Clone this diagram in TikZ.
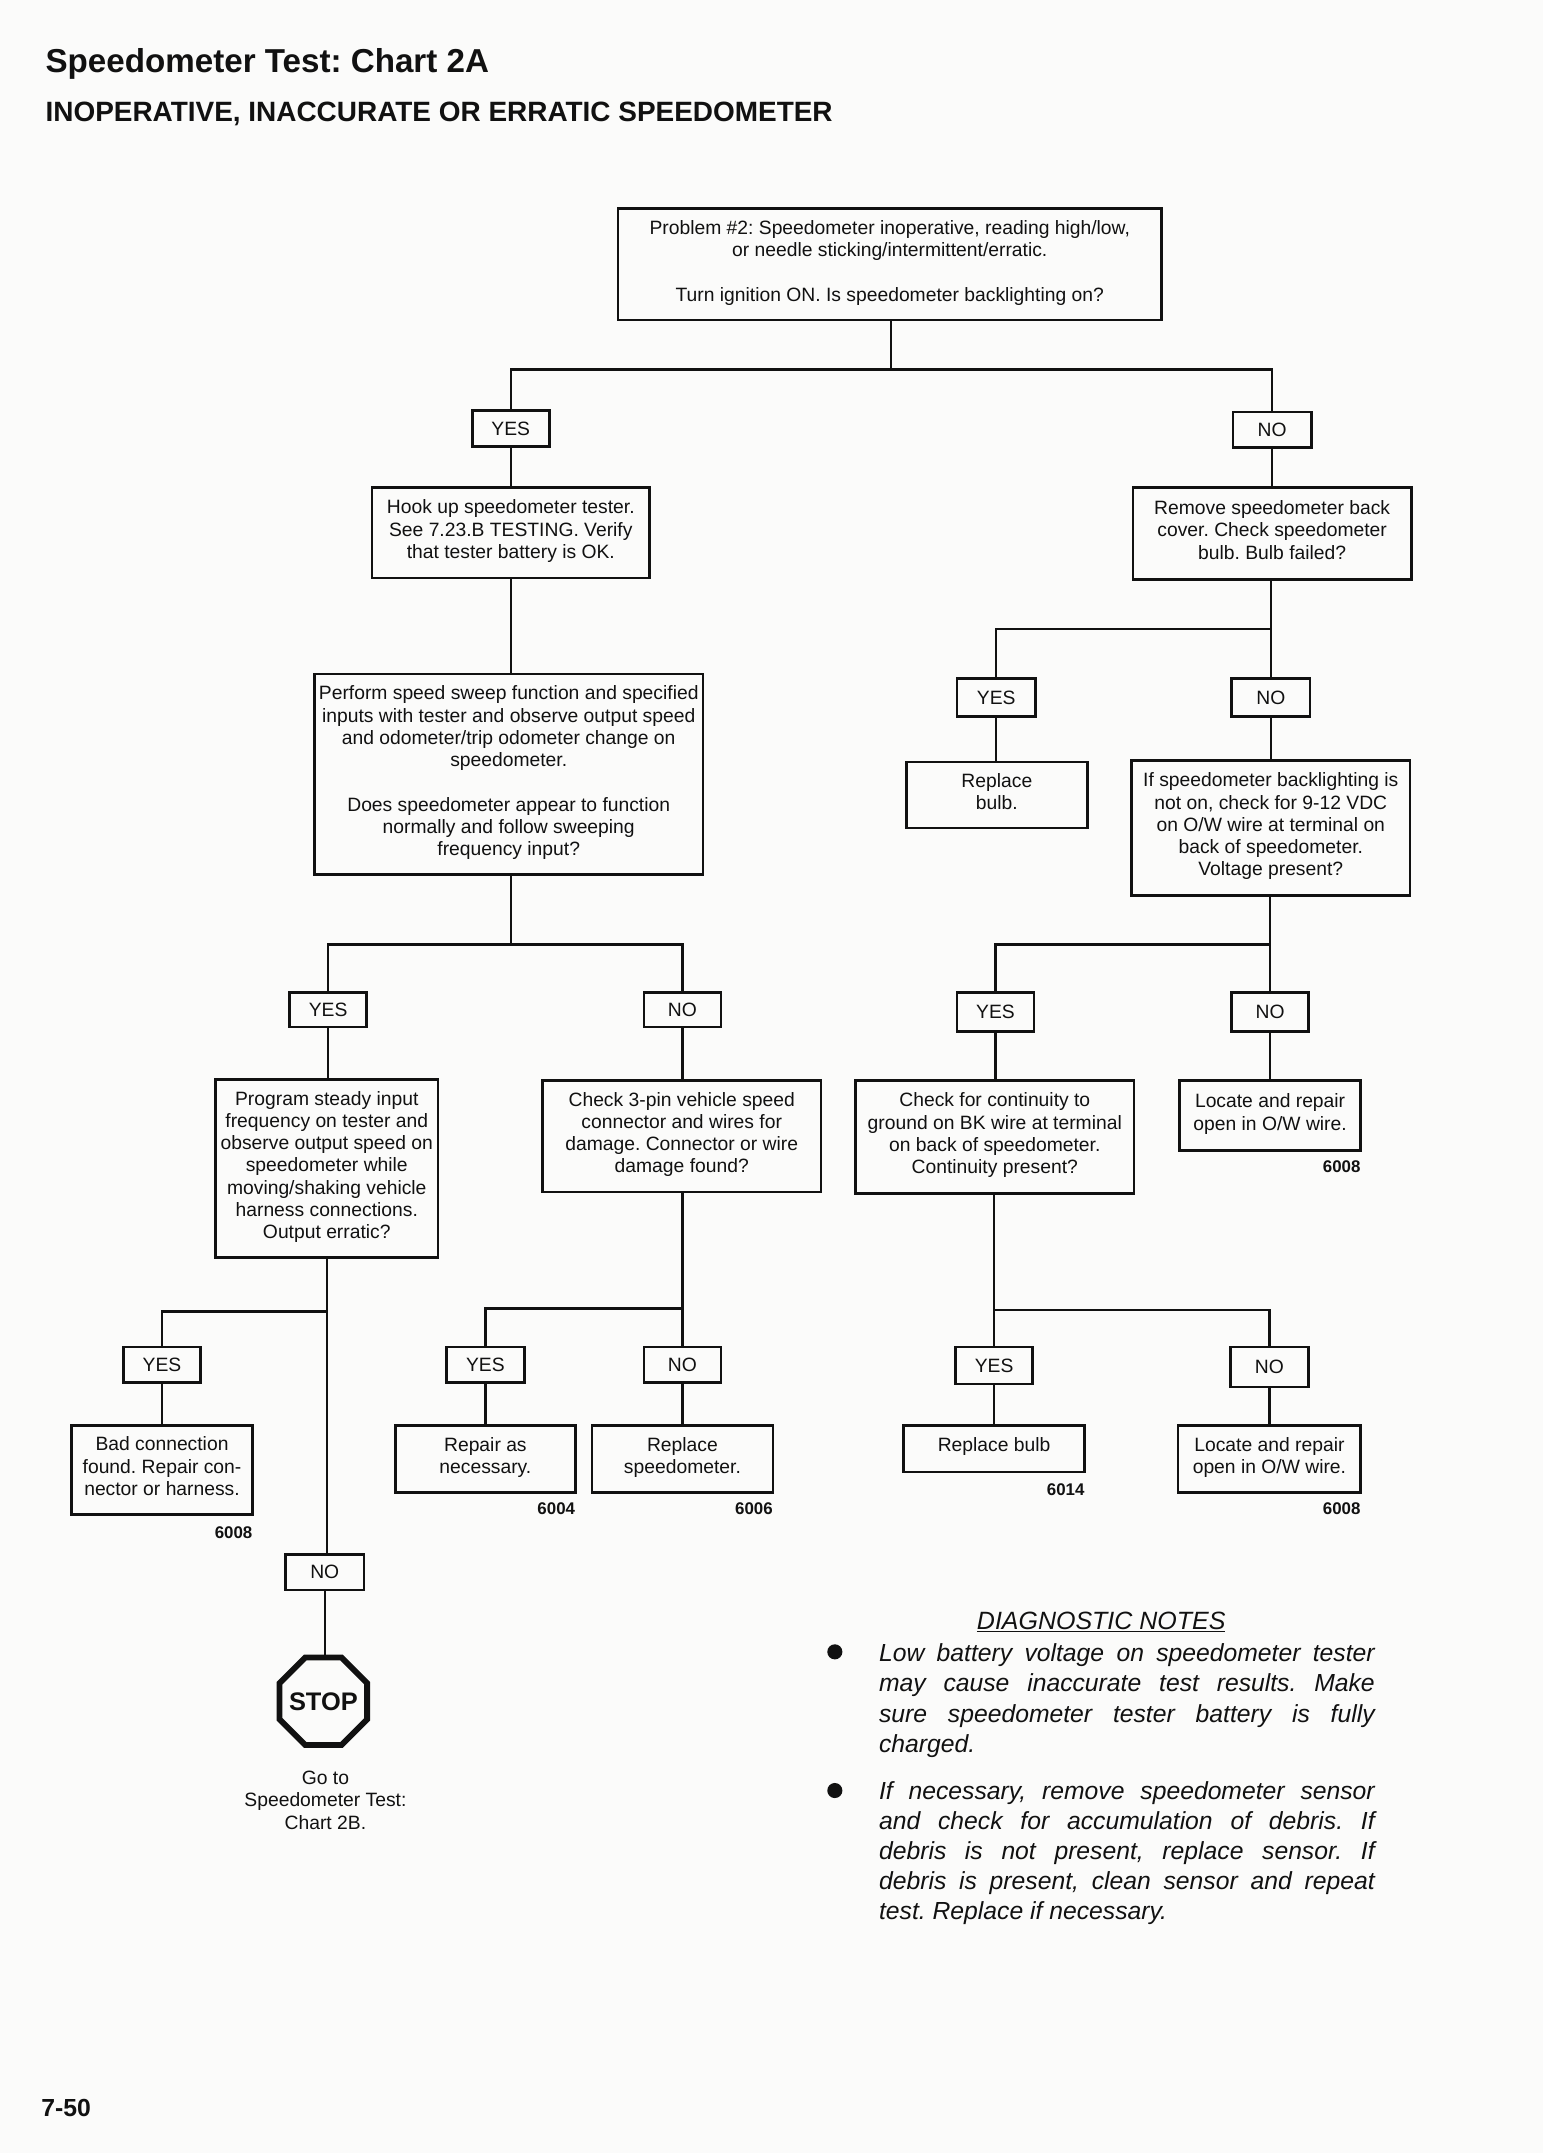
\documentclass[tikz,border=0pt]{standalone}
\usepackage{fontspec}
\setmainfont{Liberation Sans}
\usetikzlibrary{shapes.geometric}
\definecolor{paper}{HTML}{FBFBFA}
\definecolor{ink}{HTML}{111111}
\tikzset{
  flowbox/.style={draw=ink,line width=1.9pt,rectangle,inner sep=0pt,align=center,text=ink,font=\frenchspacing\fontsize{14.05}{16.2}\selectfont},
  link/.style={draw=ink,line width=1.8pt},
  code/.style={anchor=east,inner sep=0pt,text=ink,font=\bfseries\fontsize{12.3}{14}\selectfont},
  plain/.style={inner sep=0pt,align=center,text=ink,font=\frenchspacing\fontsize{14.05}{16.2}\selectfont},
  note/.style={anchor=north west,inner sep=0pt,text width=361pt,align=justify,text=ink,font=\frenchspacing\itshape\fontsize{18}{22}\selectfont},
  dotmark/.style={circle,fill=ink,inner sep=0pt,minimum size=11pt},
  heading/.style={anchor=west,inner sep=0pt,text=ink,font=\bfseries}
}
\newcommand{\bx}[6]{\node[flowbox,minimum width={(#4-#2)*1pt},minimum height={(#5-#3)*1pt}] (#1) at ({(#2+#4)/2},{(#3+#5)/2}) {\strut #6\rule[-6.5pt]{0pt}{6.5pt}};}
\newcommand{\ans}[6]{\node[flowbox,minimum width={(#4-#2)*1pt},minimum height={(#5-#3)*1pt}] (#1) at ({(#2+#4)/2},{(#3+#5)/2}) {#6};}
\begin{document}
\begin{tikzpicture}[x=1pt,y=-1pt]
\fill[paper] (0,0) rectangle (1124,1568);
\useasboundingbox (0,0) rectangle (1124,1568);
\node[heading,font=\frenchspacing\bfseries\fontsize{24.15}{28}\selectfont] (title) at (33,46.5) {Speedometer Test: Chart 2A};
\node[heading,font=\bfseries\fontsize{20.35}{25}\selectfont] (subtitle) at (33,83) {INOPERATIVE, INACCURATE OR ERRATIC SPEEDOMETER};
\node[heading,font=\bfseries\fontsize{18}{22}\selectfont] (page) at (30,1535) {7-50};

\bx{problem}{450}{152}{846}{233}{Problem \#2: Speedometer inoperative, reading high/low,\\or needle sticking/intermittent/erratic.\\[16.2pt]Turn ignition ON. Is speedometer backlighting on?}
\ans{yesA}{344}{299}{400}{325}{YES}
\ans{noA}{898}{300}{955}{326}{NO}
\bx{hook}{271}{355}{473}{421}{Hook up speedometer tester.\\See 7.23.B TESTING. Verify\\that tester battery is OK.}
\bx{remove}{825}{355}{1028}{422}{Remove speedometer back\\cover. Check speedometer\\bulb. Bulb failed?}
\bx{perform}{229}{491}{512}{637}{Perform speed sweep function and specified\\inputs with tester and observe output speed\\and odometer/trip odometer change on\\speedometer.\\[16.2pt]Does speedometer appear to function\\normally and follow sweeping\\frequency input?}
\ans{yesB}{697}{494}{754}{522}{YES}
\ans{noB}{897}{494}{954}{522}{NO}
\bx{bulb}{660}{555}{792}{603}{Replace\\bulb.}
\bx{ifback}{824}{554}{1027}{652}{If speedometer backlighting is\\not on, check for 9-12 VDC\\on O/W wire at terminal on\\back of speedometer.\\Voltage present?}
\ans{yesC}{211}{723}{267}{748}{YES}
\ans{noC}{469}{723}{525}{748}{NO}
\ans{yesD}{697}{723}{753}{751}{YES}
\ans{noD}{897}{723}{953}{751}{NO}
\bx{program}{157}{786}{319}{916}{Program steady input\\frequency on tester and\\observe output speed on\\speedometer while\\moving/shaking vehicle\\harness connections.\\Output erratic?}
\bx{check}{395}{787}{598}{868}{Check 3-pin vehicle speed\\connector and wires for\\damage. Connector or wire\\damage found?}
\bx{contin}{623}{787}{826}{869}{Check for continuity to\\ground on BK wire at terminal\\on back of speedometer.\\Continuity present?}
\bx{locateA}{859}{787}{991}{838}{Locate and repair\\open in O/W wire.}
\ans{yesE}{90}{981}{146}{1007}{YES}
\ans{yesF}{325}{981}{382}{1007}{YES}
\ans{noF}{469}{981}{525}{1007}{NO}
\ans{yesG}{696}{981}{752}{1008}{YES}
\ans{noG}{896}{981}{953}{1010}{NO}
\bx{bad}{52}{1038}{184}{1103}{Bad connection\\found. Repair con-\\nector or harness.}
\bx{repair}{288}{1038}{419}{1087}{Repair as\\necessary.}
\bx{speedo}{431}{1038}{563}{1087}{Replace\\speedometer.}
\bx{bulbB}{658}{1038}{790}{1072}{Replace bulb}
\bx{locateB}{858}{1038}{991}{1087}{Locate and repair\\open in O/W wire.}
\ans{noE}{208}{1132}{265}{1158}{NO}

\node[code] (cA) at (991,850) {6008};
\node[code] (cB) at (184,1116) {6008};
\node[code] (cC) at (419,1099) {6004};
\node[code] (cD) at (563,1099) {6006};
\node[code] (cE) at (790,1085) {6014};
\node[code] (cF) at (991,1099) {6008};

\node[regular polygon,regular polygon sides=8,draw=ink,line width=4.2pt,minimum size=69pt,inner sep=0pt] (stop) at (235.5,1239) {};
\node[inner sep=0pt,text=ink,font=\bfseries\fontsize{18.5}{22}\selectfont] (stoptext) at (stop.center) {STOP};
\node[plain] (goto) at (237,1311) {Go to\\Speedometer Test:\\Chart 2B.};

% connectors
\coordinate (barA) at (649,269);
\coordinate (barB) at (725.5,458);
\coordinate (barC) at (372,688);
\coordinate (barD) at (725,688);
\coordinate (barE) at (238,955);
\coordinate (barF) at (497,953);
\coordinate (barG) at (724,954);
\draw[link] (barA) -- (barA |- problem.south);
\draw[link] (yesA.north) |- (barA) -| (noA.north);
\draw[link] (yesA.south) -- (yesA.south |- hook.north);
\draw[link] (noA.south) -- (noA.south |- remove.north);
\draw[link] (hook.south) -- (hook.south |- perform.north);
\draw[link] (noB.north) -- (noB.north |- remove.south);
\draw[link] (yesB.north) |- (barB -| noB);
\draw[link] (yesB.south) -- (yesB.south |- bulb.north);
\draw[link] (noB.south) -- (noB.south |- ifback.north);
\draw[link] (barC) -- (barC |- perform.south);
\draw[link] (yesC.north) |- (barC) -| (noC.north);
\draw[link] (noD.north) -- (noD.north |- ifback.south);
\draw[link] (yesD.north) |- (barD -| noD);
\draw[link] (yesC.south) -- (yesC.south |- program.north);
\draw[link] (noC.south) -- (noC.south |- check.north);
\draw[link] (yesD.south) -- (yesD.south |- contin.north);
\draw[link] (noD.south) -- (noD.south |- locateA.north);
\draw[link] (barE |- program.south) -- (barE |- noE.north);
\draw[link] (yesE.north) |- (barE);
\draw[link] (yesE.south) -- (yesE.south |- bad.north);
\draw[link] (noE.south) -- (noE.south |- stop.north);
\draw[link] (noF.north) -- (noF.north |- check.south);
\draw[link] (yesF.north) |- (barF -| noF);
\draw[link] (yesF.south) -- (yesF.south |- repair.north);
\draw[link] (noF.south) -- (noF.south |- speedo.north);
\draw[link] (yesG.north) -- (yesG.north |- contin.south);
\draw[link] (yesG.north) |- (barG) -| (noG.north);
\draw[link] (yesG.south) -- (yesG.south |- bulbB.north);
\draw[link] (noG.south) -- (noG.south |- locateB.north);

% notes
\node[inner sep=0pt,text=ink,font=\itshape\fontsize{18.2}{22}\selectfont] (nhead) at (802,1181.5) {\underline{DIAGNOSTIC NOTES}};
\node[dotmark] (dotA) at (608,1203) {};
\node[dotmark] (dotB) at (608,1304) {};
\node[note] (noteA) at (640,1197) {Low battery voltage on speedometer tester\linebreak may cause inaccurate test results. Make\linebreak sure speedometer tester battery is fully\linebreak charged.};
\node[note] (noteB) at (640,1297) {If necessary, remove speedometer sensor\linebreak and check for accumulation of debris. If\linebreak debris is not present, replace sensor. If\linebreak debris is present, clean sensor and repeat\linebreak test. Replace if necessary.};
\end{tikzpicture}
\end{document}
